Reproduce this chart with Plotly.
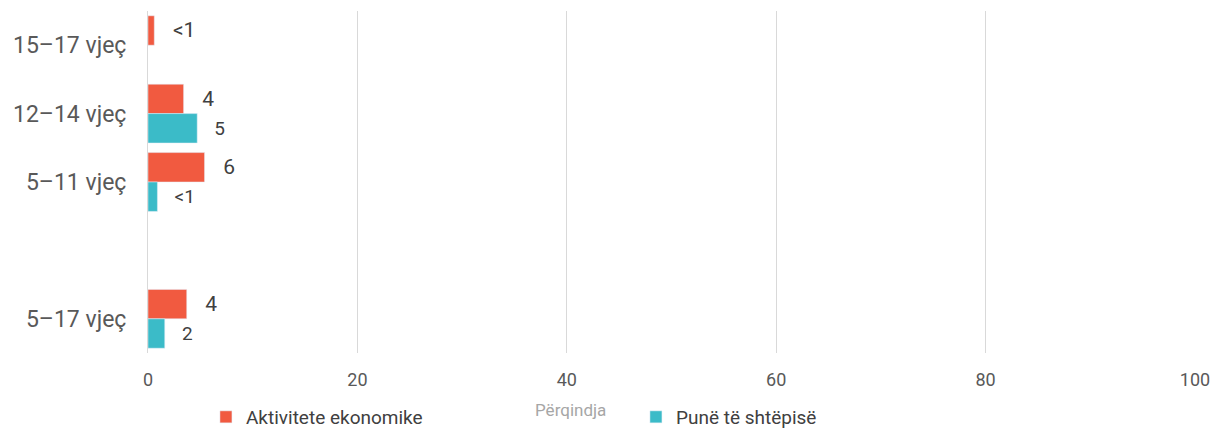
import plotly.graph_objects as go

categories = ["15–17 vjeç", "12–14 vjeç", "5–11 vjeç", " ", "5–17 vjeç"]
economic = [0.6, 3.4, 5.4, None, 3.7]
economic_labels = ["<1", "4", "6", "", "4"]
household = [None, 4.7, 0.9, None, 1.6]
household_labels = ["", "5", "<1", "", "2"]
x_ticks = [0, 20, 40, 60, 80, 100]

RED = "#F15A40"
TEAL = "#3BBBC8"
PAD = "\u00a0" * 3

fig = go.Figure()
fig.add_trace(go.Bar(
    y=categories, x=economic, orientation="h", name="Aktivitete ekonomike",
    marker=dict(color=RED), text=[PAD + t if t else "" for t in economic_labels],
    textposition="outside", textfont=dict(size=21, color="#404040"),
    cliponaxis=False, hoverinfo="skip"))
fig.add_trace(go.Bar(
    y=categories, x=household, orientation="h", name="Punë të shtëpisë",
    marker=dict(color=TEAL), text=[PAD + t if t else "" for t in household_labels],
    textposition="outside", textfont=dict(size=19, color="#404040"),
    cliponaxis=False, hoverinfo="skip"))

fig.update_layout(
    width=1215, height=436,
    margin=dict(l=148, r=20, t=11, b=83, autoexpand=False),
    paper_bgcolor="white", plot_bgcolor="white",
    font=dict(family="Roboto", size=18, color="#595959"),
    barmode="group", bargap=0.14, bargroupgap=0,
    showlegend=True,
    legend=dict(orientation="h", xref="container", x=0.1695, xanchor="left",
                yref="container", y=0.0, yanchor="bottom",
                font=dict(size=19, color="#404040"), entrywidth=385, entrywidthmode="pixels",
                traceorder="normal", bgcolor="rgba(0,0,0,0)"),
    annotations=[dict(text="Përqindja", xref="paper", yref="paper", x=0.404, y=-0.167,
                      xanchor="center", yanchor="middle", showarrow=False,
                      font=dict(size=17, color="#A6A6A6"))],
)
fig.update_xaxes(range=[0, 100], tickvals=x_ticks, showgrid=True, gridcolor="#D9D9D9",
                 gridwidth=1, zeroline=False, showline=False, ticks="",
                 automargin=False, ticklabelstandoff=14,
                 tickfont=dict(size=18, color="#595959"))
fig.update_yaxes(type="category", categoryorder="array", categoryarray=categories,
                 autorange="reversed", showline=True, linecolor="#D9D9D9", linewidth=1,
                 showgrid=False, ticks="", ticklabelstandoff=16, automargin=False,
                 tickfont=dict(size=23, color="#595959"))

fig.write_html("out.html", config={"displayModeBar": False},
               post_script="document.body.style.margin='0px';")
